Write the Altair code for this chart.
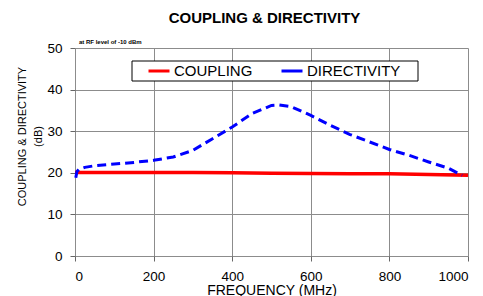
import altair as alt
import pandas as pd

FONT = "Liberation Sans"

coup_freq = [0, 100, 200, 300, 400, 500, 600, 700, 800, 900, 1000]
coup_db = [20.1, 20.1, 20.1, 20.1, 20.0, 19.9, 19.85, 19.8, 19.75, 19.6, 19.4]

dir_freq = [2, 5, 10, 25, 50, 100, 150, 200, 250, 300, 350, 400, 450, 500, 520,
            550, 600, 650, 700, 750, 800, 850, 900, 950, 985]
dir_db = [18.8, 20.3, 20.8, 21.3, 21.7, 22.1, 22.5, 23.0, 23.8, 25.4, 28.2, 31.0,
          34.2, 36.2, 36.3, 35.9, 33.8, 31.4, 29.2, 27.4, 25.6, 24.2, 22.6, 21.1, 19.4]

series = ["COUPLING", "DIRECTIVITY"]
colors = ["#FF0000", "#0000FF"]

coup = pd.DataFrame({"freq": coup_freq, "db": coup_db, "series": series[0]})
dire = pd.DataFrame({"freq": dir_freq, "db": dir_db, "series": series[1]})

x = alt.X("freq:Q", scale=alt.Scale(domain=[0, 1000], nice=False),
          axis=alt.Axis(title="FREQUENCY (MHz)", values=[0, 200, 400, 600, 800, 1000],
                        format="d", titlePadding=1))
y = alt.Y("db:Q", scale=alt.Scale(domain=[0, 50], nice=False),
          axis=alt.Axis(title=["COUPLING & DIRECTIVITY", "(dB)"], values=[0, 10, 20, 30, 40, 50],
                        titlePadding=3, titleY=88, titleFontSize=11, titleLineHeight=16))
color = alt.Color("series:N", scale=alt.Scale(domain=series, range=colors),
                  legend=alt.Legend(orient="none", legendX=72, legendY=11, direction="horizontal",
                                    title=None, symbolType="stroke", symbolSize=441,
                                    symbolStrokeWidth=3, labelFontSize=15,
                                    labelOffset=3, columnPadding=22, padding=0, labelFont=FONT,
                                    labelColor="black"))

box = alt.Chart(alt.Data(values=[{}])).mark_rect(fill="white", stroke="black", strokeWidth=1).encode(
    x=alt.value(57), x2=alt.value(343), y=alt.value(13), y2=alt.value(33))

note = alt.Chart(alt.Data(values=[{"t": "at RF level of -10 dBm"}])).mark_text(
    font=FONT, fontSize=6, fontWeight="bold", align="left", baseline="alphabetic", color="black"
).encode(x=alt.value(4), y=alt.value(-4), text="t:N")

# legend comes from the solid line layer (its scale covers both series)
l1 = alt.Chart(coup).mark_line(strokeWidth=3.5).encode(x=x, y=y, color=color)
l2 = alt.Chart(dire).mark_line(strokeWidth=3, strokeDash=[9, 5], color=colors[1]).encode(x=x, y=y)

chart = alt.layer(box, l1, l2, note).properties(
    width=393, height=208,
    autosize=alt.AutoSizeParams(type="none"),
    padding={"left": 67, "top": 40, "right": 7, "bottom": 40},
    title=alt.TitleParams("COUPLING & DIRECTIVITY", font=FONT, fontSize=15, fontWeight="bold",
                          anchor="middle", frame="group", offset=13, dx=-7, color="black"),
).configure_view(stroke=None).configure_axis(
    domain=False, grid=True, gridColor="#8c8c8c", gridOpacity=1, tickColor="#666666",
    tickSize=5, labelPadding=8, labelFont=FONT, labelFontSize=13.5, labelColor="black",
    titleFont=FONT, titleFontSize=14, titleFontWeight="normal", titleColor="black"
)

chart.save("out.html", embed_options={"renderer": "svg", "actions": False})
